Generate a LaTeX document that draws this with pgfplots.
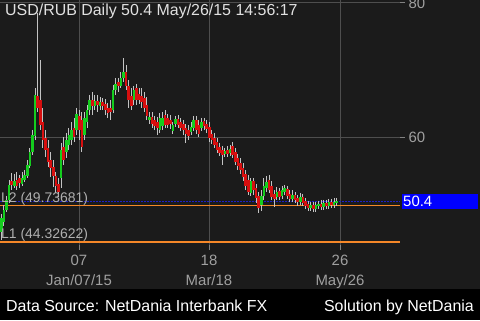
\documentclass[border=0pt]{standalone}
\usepackage{pgfplots}
\pgfplotsset{compat=1.18}
\usepackage{pgfplotstable}
\usepackage{fontspec}
\setmainfont{Liberation Sans}
\definecolor{bgc}{RGB}{27,27,27}
\definecolor{gridc}{RGB}{78,78,78}
\definecolor{tickc}{RGB}{130,130,130}
\definecolor{labc}{RGB}{160,160,160}
\definecolor{titlec}{RGB}{225,225,225}
\definecolor{upc}{RGB}{20,205,30}
\definecolor{dnc}{RGB}{215,15,15}
\definecolor{wickc}{RGB}{195,195,195}
\definecolor{orangec}{RGB}{245,135,40}
\definecolor{dotc}{RGB}{30,30,200}
\definecolor{llabc}{RGB}{175,175,175}

\pgfplotstableread{
x O H L C
1.3 45.82 48.51 44.63 47.91
3.9 47.32 49.85 46.72 49.11
6.5 49.11 51.20 48.81 50.60
9.1 50.60 53.59 50.15 52.84
11.7 53.44 54.63 52.09 52.84
14.3 52.69 54.48 52.39 53.44
16.9 53.59 54.78 52.09 52.69
19.5 53.88 54.33 52.39 53.14
22.1 52.99 54.78 52.69 53.88
24.7 53.59 55.08 53.29 54.33
27.3 54.18 56.57 53.88 55.82
29.9 55.67 58.36 55.38 57.76
32.5 57.76 61.05 57.32 60.30
35.1 60.15 67.31 59.55 66.27
37.7 66.12 78.51 63.73 64.33
40.3 65.52 71.49 61.05 61.79
42.9 62.24 64.33 58.36 59.55
45.5 59.85 61.05 57.02 58.06
48.1 58.36 59.55 55.52 56.27
50.7 56.57 57.76 54.03 55.38
53.3 55.52 56.57 52.54 54.18
55.9 54.18 54.78 51.65 52.69
58.5 52.99 53.88 51.05 51.79
61.1 53.88 59.11 52.39 58.06
63.7 58.51 60.00 55.82 56.57
66.3 57.76 60.60 56.87 59.55
68.9 58.81 61.35 58.06 60.30
71.5 59.55 62.24 58.81 61.05
74.1 61.35 62.84 59.26 60.00
76.7 61.05 64.33 60.30 63.43
79.3 63.14 64.03 59.55 61.05
81.9 62.54 63.73 57.76 58.51
84.5 60.30 63.73 59.55 62.84
87.1 62.24 64.78 61.35 64.03
89.7 64.03 66.27 63.28 65.52
92.3 65.52 66.72 63.28 64.63
94.9 64.63 66.27 64.03 65.37
97.5 65.37 66.27 63.73 64.78
100.1 64.63 65.97 64.03 65.22
102.7 65.22 65.82 64.03 64.63
105.3 64.93 65.67 63.28 64.03
107.9 64.33 65.08 62.84 63.58
110.5 64.33 65.52 62.54 63.73
113.1 64.03 67.76 63.58 67.02
115.7 67.02 68.81 66.27 67.91
118.3 68.21 68.81 66.72 67.61
120.9 67.61 69.70 67.31 68.81
123.5 68.81 71.79 68.21 69.70
126.1 69.70 70.75 67.02 67.61
128.7 67.61 68.51 64.33 65.52
131.3 66.12 67.31 64.03 64.63
133.9 65.52 67.61 64.78 67.02
136.5 67.31 67.91 64.78 65.52
139.1 66.42 67.31 64.93 65.52
141.7 66.12 67.31 64.33 65.22
144.3 65.82 66.72 63.73 64.33
146.9 64.78 65.97 62.54 63.14
149.5 62.54 63.73 61.94 62.99
152.1 62.99 63.73 61.35 61.94
154.7 62.54 63.14 61.05 61.64
157.3 62.24 62.99 60.30 61.35
159.9 61.05 63.58 60.60 62.84
162.5 61.64 63.73 61.05 62.84
165.1 63.28 64.03 61.35 61.79
167.7 62.84 63.43 61.35 61.79
170.3 62.54 63.28 61.20 61.94
172.9 60.90 62.24 60.45 61.79
175.5 61.94 63.14 61.49 62.69
178.1 62.69 63.28 61.35 61.79
180.7 62.24 62.84 60.90 61.35
183.3 61.94 62.54 60.30 61.05
185.9 61.35 61.94 59.11 60.45
188.5 61.05 61.79 59.55 60.15
191.1 60.75 62.24 60.30 61.49
193.7 61.35 63.14 60.90 62.54
196.3 62.54 63.14 60.45 61.05
198.9 61.79 62.54 60.00 60.45
201.5 61.35 62.84 60.90 62.24
204.1 62.39 62.84 61.05 61.64
206.7 61.94 62.54 60.60 61.20
209.3 61.49 62.24 59.26 59.85
211.9 60.45 61.05 58.96 59.55
214.5 59.85 60.60 58.36 58.81
217.1 59.26 59.85 57.61 58.06
219.7 58.51 59.11 57.17 57.61
222.3 58.06 58.66 55.82 57.32
224.9 57.47 58.36 57.02 57.91
227.5 58.06 58.66 57.02 57.47
230.1 57.61 58.81 57.17 58.21
232.7 58.66 59.26 56.87 57.32
235.3 57.76 58.36 55.82 56.27
237.9 56.87 57.47 55.08 55.67
240.5 56.12 56.87 54.48 55.08
243.1 55.38 56.12 53.44 54.03
245.7 54.48 55.08 52.09 52.69
248.3 53.59 54.33 51.35 51.79
250.9 51.65 53.88 51.20 53.44
253.5 53.44 53.88 51.35 52.09
256.1 52.39 52.99 50.15 50.90
258.7 51.20 51.79 48.66 49.41
261.3 49.85 52.09 48.96 51.20
263.9 51.20 53.88 50.60 52.69
266.5 52.39 54.18 51.79 53.29
269.1 53.59 54.33 51.65 52.09
271.7 52.69 53.44 50.60 51.05
274.3 51.50 52.09 49.56 50.75
276.9 51.05 52.54 50.60 51.79
279.5 51.94 52.39 50.60 51.05
282.1 51.20 52.69 50.75 52.09
284.7 51.79 52.84 51.35 52.39
287.3 52.24 52.69 50.75 51.20
289.9 51.50 52.09 50.30 50.75
292.5 50.75 52.09 50.30 51.35
295.1 51.35 51.79 50.15 50.60
297.7 50.90 51.35 49.70 50.30
300.3 50.30 51.65 49.85 51.05
302.9 51.05 51.50 49.70 50.15
305.5 50.45 50.90 49.26 49.70
308.1 50.00 50.45 48.96 49.41
310.7 49.41 50.30 48.96 49.85
313.3 49.85 50.30 48.81 49.26
315.9 49.26 50.30 48.81 49.85
318.5 49.70 50.45 49.26 50.00
321.1 50.00 50.60 49.11 49.56
323.7 49.56 50.60 49.11 50.15
326.3 50.15 50.60 49.26 49.70
328.9 49.70 50.75 49.26 50.30
331.5 50.30 50.75 49.41 49.85
334.1 49.85 50.90 49.41 50.30
336.7 50.15 50.90 49.70 50.40
}\candles

\begin{document}
\begin{tikzpicture}[x=1bp,y=1bp]
\fill[black] (0,0) rectangle (480,320);
\fill[bgc] (0,31) rectangle (480,320);
\begin{axis}[
  at={(0bp,75bp)}, anchor=south west,
  scale only axis, width=400bp, height=245bp,
  xmin=0, xmax=400, ymin=43.881, ymax=80.448,
  axis line style={draw=none},
  xtick={79,209,340},
  xticklabels={{07\\Jan/07/15},{18\\Mar/18},{26\\May/26}},
  ytick={60,80},
  grid=major, grid style={gridc, line width=1bp},
  tick style={tickc, line width=1bp},
  tick align=outside, major tick length=5bp,
  xtick pos=bottom, ytick pos=right, yticklabel pos=right,
  ticklabel style={font=\fontsize{15}{20}\selectfont, text=labc},
  xticklabel style={align=center, yshift=-2bp},
  /pgf/number format/assume math mode=true,
  clip=false,
]
\addplot[dotc, line width=1.2bp, dash pattern=on 1.5bp off 1.5bp] coordinates {(0,50.4) (400,50.4)};
\addplot[orangec, line width=1.3bp] coordinates {(0,49.73681) (400,49.73681)};
\addplot[orangec, line width=1.3bp] coordinates {(0,44.32622) (400,44.32622)};
\addplot[draw=none, mark=none, error bars/.cd, y dir=minus, y explicit, error mark=none,
  error bar style={draw=wickc, line width=0.9bp}]
  table[x=x, y=H, y error minus expr={\thisrow{H}-\thisrow{L}}] {\candles};
\addplot[draw=none, mark=none, error bars/.cd, y dir=plus, y explicit, error mark=none,
  error bar style={draw=upc, line width=2.5bp}]
  table[x=x, y=O, y error plus expr={max(\thisrow{C}-\thisrow{O},0)}] {\candles};
\addplot[draw=none, mark=none, error bars/.cd, y dir=minus, y explicit, error mark=none,
  error bar style={draw=dnc, line width=2.5bp}]
  table[x=x, y=O, y error minus expr={max(\thisrow{O}-\thisrow{C},0)}] {\candles};
\end{axis}
\node[anchor=base west, inner sep=0pt, text=llabc, font=\fontsize{14}{16}\selectfont] at (1,118) {L2 (49.73681)};
\node[anchor=base west, inner sep=0pt, text=llabc, font=\fontsize{14}{16}\selectfont] at (1,82) {L1 (44.32622)};
\fill[blue] (402,111) rectangle (478,126);
\node[anchor=base west, inner sep=0pt, text=white, font=\fontsize{15}{16}\selectfont] at (403,114) {50.4};
\node[anchor=base west, inner sep=0pt, text=titlec, font=\fontsize{16}{18}\selectfont] at (5,305) {USD/RUB Daily 50.4 May/26/15 14:56:17};
\node[anchor=base west, inner sep=0pt, text=white, font=\fontsize{16}{18}\selectfont] at (6,9) {Data Source: NetDania Interbank FX};
\node[anchor=base east, inner sep=0pt, text=white, font=\fontsize{16}{18}\selectfont] at (474,9) {Solution by NetDania};
\pgfresetboundingbox
\path[use as bounding box] (0,0) rectangle (480,320);
\end{tikzpicture}
\end{document}
